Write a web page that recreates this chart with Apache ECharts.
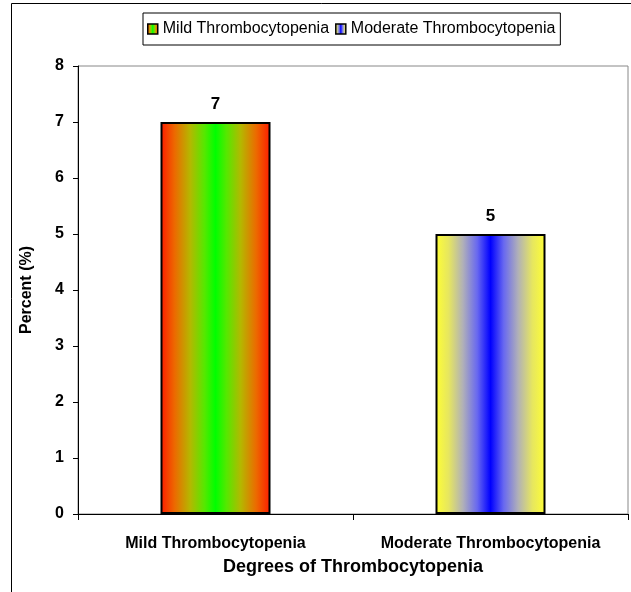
<!DOCTYPE html>
<html><head><meta charset="utf-8">
<script src="https://cdn.jsdelivr.net/npm/echarts@6/dist/echarts.min.js"></script>
<style>html,body{margin:0;padding:0;background:#fff}#c{width:631px;height:592px}</style>
</head><body><div id="c"></div>
<script>
var categories = ['Mild Thrombocytopenia', 'Moderate Thrombocytopenia'];
var seriesNames = ['Mild Thrombocytopenia', 'Moderate Thrombocytopenia'];
var mildValues = [7, '-'];
var moderateValues = ['-', 5];
var yTicks = [0, 1, 2, 3, 4, 5, 6, 7, 8];

var FONT = '"Liberation Sans", Arial, sans-serif';
function grad(stops) {
  return new echarts.graphic.LinearGradient(0, 0, 1, 0, stops.map(function (s) {
    return {offset: s[0], color: s[1]};
  }));
}
var mildGrad = grad([[0, '#ff1a00'], [0.13, '#ec6a00'], [0.27, '#b4b800'], [0.4, '#55e800'], [0.5, '#00ff00'],
  [0.6, '#55e800'], [0.73, '#b4b800'], [0.87, '#ec6a00'], [1, '#ff1a00']]);
var modGrad = grad([[0, '#ffff33'], [0.12, '#e6e660'], [0.25, '#b0b0b8'], [0.38, '#6868f0'], [0.5, '#0000ff'],
  [0.62, '#6868f0'], [0.75, '#b0b0b8'], [0.88, '#e6e660'], [1, '#ffff33']]);

var chart = echarts.init(document.getElementById('c'), null, {renderer: 'canvas'});
chart.setOption({
  animation: false,
  textStyle: {fontFamily: FONT},
  graphic: [{
    type: 'rect', shape: {x: 11.5, y: 3.5, width: 700, height: 700},
    style: {fill: 'none', stroke: '#000', lineWidth: 1}, silent: true, z: -10
  }],
  legend: {
    left: 143, top: 13, padding: [8, 5, 8, 4],
    borderColor: '#000', borderWidth: 1,
    itemWidth: 10, itemHeight: 10, itemGap: 6,
    icon: 'rect',
    itemStyle: {borderColor: '#000', borderWidth: 1.5},
    textStyle: {fontFamily: FONT, fontSize: 16, color: '#000'},
    data: seriesNames
  },
  grid: {left: 78, right: 3, top: 66, bottom: 78, show: true, borderColor: '#888', borderWidth: 1},
  xAxis: {
    type: 'category', data: categories,
    axisLine: {lineStyle: {color: '#000', width: 1}},
    axisTick: {show: true, length: 6, interval: 0, lineStyle: {color: '#000'}},
    axisLabel: {interval: 0, fontFamily: FONT, fontSize: 16, fontWeight: 'bold', color: '#000', margin: 22},
    name: 'Degrees of Thrombocytopenia', nameLocation: 'middle', nameGap: 44,
    nameTextStyle: {fontFamily: FONT, fontSize: 18, fontWeight: 'bold', color: '#000'}
  },
  yAxis: {
    type: 'value', min: yTicks[0], max: yTicks[yTicks.length - 1], interval: 1,
    splitLine: {show: false},
    axisLine: {show: true, lineStyle: {color: '#000', width: 1}},
    axisTick: {show: true, length: 5, lineStyle: {color: '#000'}},
    axisLabel: {fontFamily: FONT, fontSize: 16, fontWeight: 'bold', color: '#000', margin: 14},
    name: 'Percent (%)', nameLocation: 'middle', nameGap: 43,
    nameTextStyle: {fontFamily: FONT, fontSize: 16, fontWeight: 'bold', color: '#000'}
  },
  series: [{
    name: seriesNames[0], type: 'bar', data: mildValues, barWidth: '40%', barGap: '-100%',
    itemStyle: {color: mildGrad, borderColor: '#000', borderWidth: 2},
    label: {show: true, position: 'top', distance: 9, fontFamily: FONT, fontSize: 17, fontWeight: 'bold', color: '#000'}
  }, {
    name: seriesNames[1], type: 'bar', data: moderateValues, barWidth: '40%', barGap: '-100%',
    itemStyle: {color: modGrad, borderColor: '#000', borderWidth: 2},
    label: {show: true, position: 'top', distance: 9, fontFamily: FONT, fontSize: 17, fontWeight: 'bold', color: '#000'}
  }]
});
</script></body></html>
